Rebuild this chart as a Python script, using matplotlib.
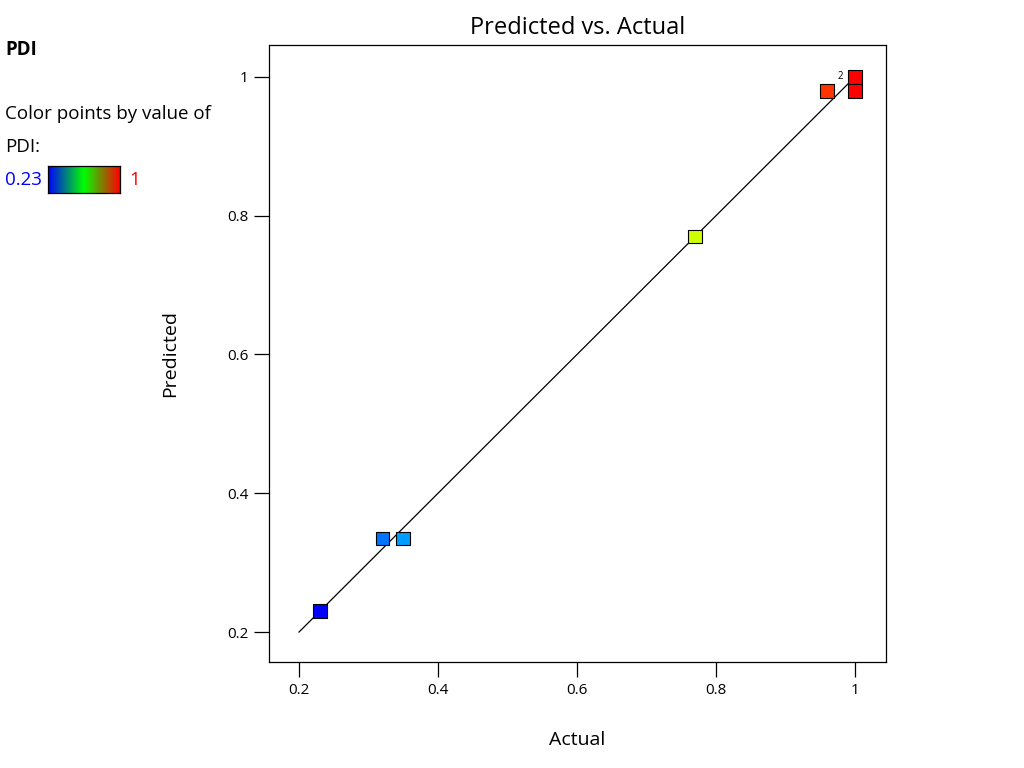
import numpy as np
import matplotlib.pyplot as plt
from matplotlib.colors import LinearSegmentedColormap, Normalize

plt.rcParams['font.family'] = ['Open Sans', 'Noto Sans', 'DejaVu Sans']

# data
actual = [0.23, 0.32, 0.35, 0.77, 0.96, 1.0, 1.0]
predicted = [0.23, 0.335, 0.335, 0.77, 0.98, 1.0, 0.98]
pdi_min, pdi_max = 0.23, 1.0
x_ticks = [0.2, 0.4, 0.6, 0.8, 1.0]
y_ticks = [0.2, 0.4, 0.6, 0.8, 1.0]
tick_labels = ['0.2', '0.4', '0.6', '0.8', '1']

# colour ramp for points (hue sweep blue -> red)
point_cmap = LinearSegmentedColormap.from_list(
    'pts', ['#0000ff', '#00ffff', '#00ff00', '#ffff00', '#ff0000'])
# colour ramp drawn in the legend bar
bar_cmap = LinearSegmentedColormap.from_list(
    'bar', ['#0000ff', '#00ff00', '#ff0000'])
norm = Normalize(pdi_min, pdi_max)

fig = plt.figure(figsize=(10.24, 7.68), dpi=100)
ax = fig.add_axes([0.2627, 0.138, 0.6025, 0.8034])

# 1:1 line
ax.plot([0.2, 1.0], [0.2, 1.0], color='black', lw=0.9, zorder=2)

ax.scatter(actual, predicted, c=actual, cmap=point_cmap, norm=norm,
           marker='s', s=95, edgecolors='black', linewidths=0.8, zorder=3)

# count label for overlapping points at (1, 1)
ax.text(0.979, 1.0, '2', fontsize=7, ha='center', va='center')

ax.set_xlim(0.1568, 1.0446)
ax.set_ylim(0.1568, 1.046)
ax.set_xticks(x_ticks)
ax.set_xticklabels(tick_labels)
ax.set_yticks(y_ticks)
ax.set_yticklabels(tick_labels)
ax.tick_params(direction='out', length=11, width=0.9, labelsize=11, pad=4)
for s in ax.spines.values():
    s.set_linewidth(0.9)

ax.set_title('Predicted vs. Actual', fontsize=17, pad=8)
ax.set_xlabel('Actual', fontsize=14, labelpad=24)
ax.set_ylabel('Predicted', fontsize=14, labelpad=34)

# left-side legend
fig.text(0.005, 0.935, 'PDI', fontsize=13.5, fontweight='bold', va='center')
fig.text(0.005, 0.851, 'Color points by value of', fontsize=13.5, va='center')
fig.text(0.005, 0.808, 'PDI:', fontsize=13.5, va='center')
fig.text(0.005, 0.765, '0.23', fontsize=13.5, color='#0000ff', va='center')
fig.text(0.126, 0.765, '1', fontsize=13.5, color='#ff0000', va='center')

cax = fig.add_axes([0.0469, 0.7487, 0.0703, 0.0352])
cax.imshow(np.linspace(0, 1, 256)[None, :], aspect='auto', cmap=bar_cmap)
cax.set_xticks([])
cax.set_yticks([])
for s in cax.spines.values():
    s.set_linewidth(0.9)

fig.savefig('out.png', dpi=100)
